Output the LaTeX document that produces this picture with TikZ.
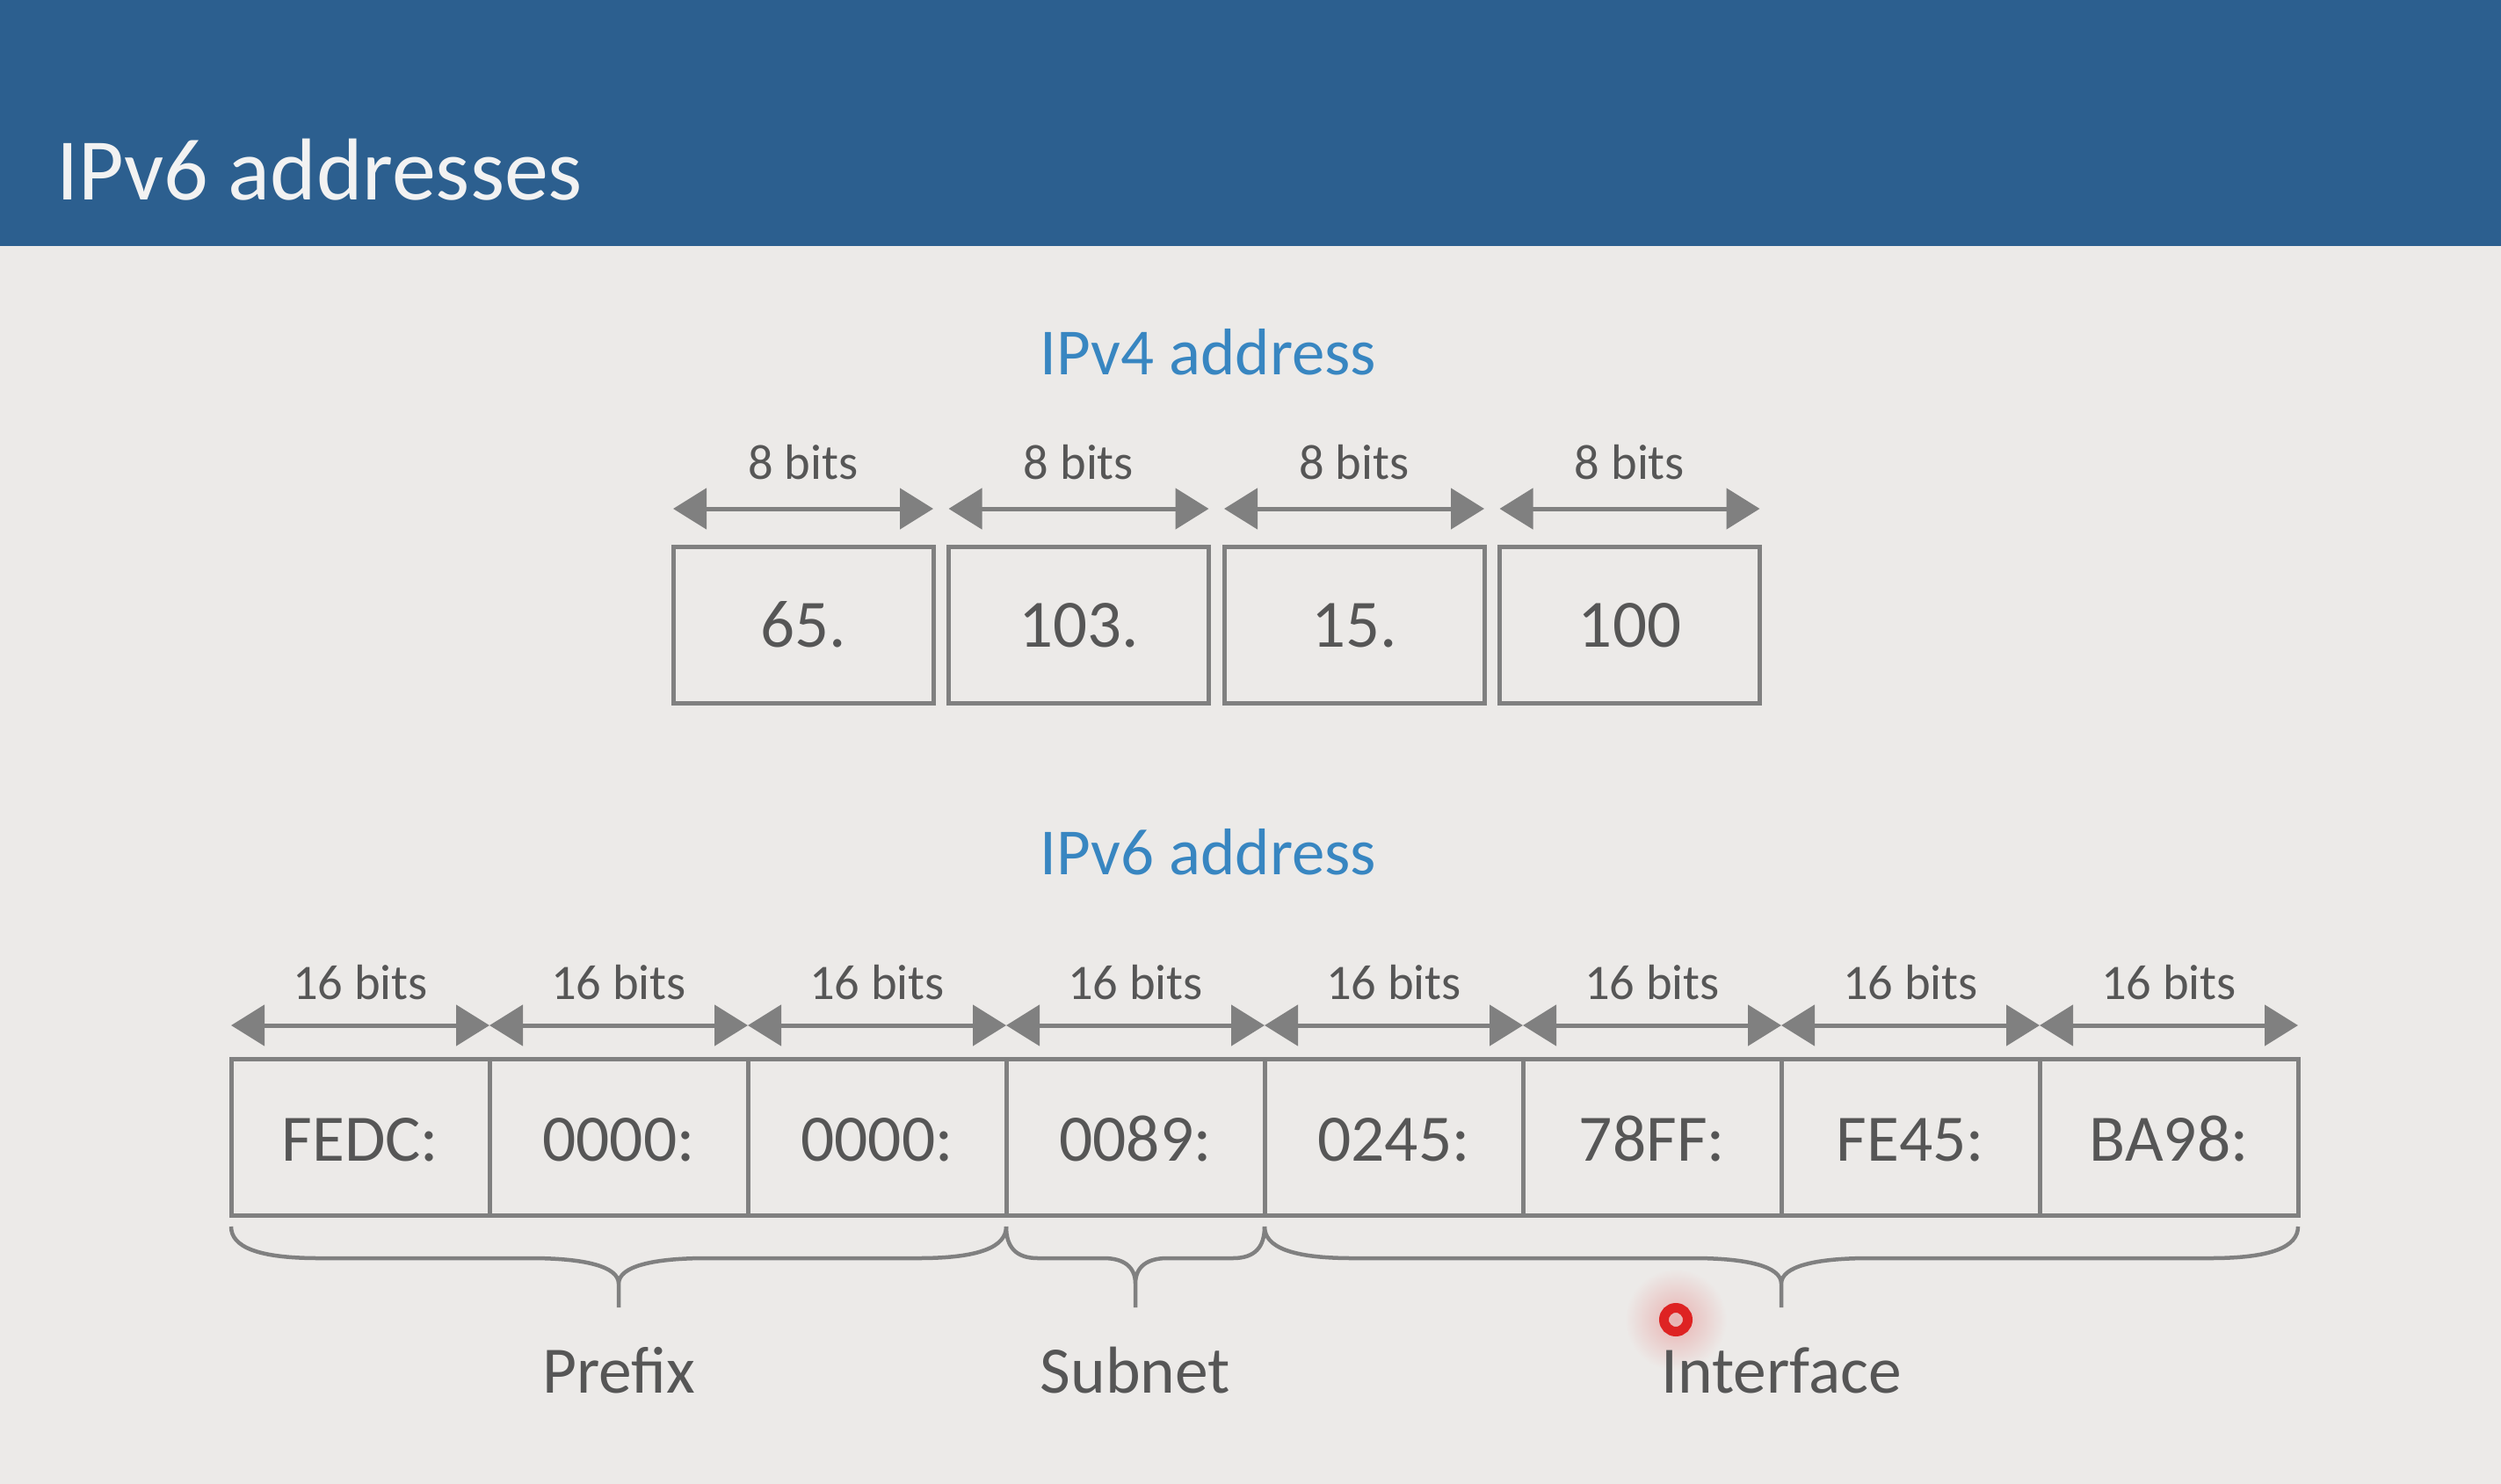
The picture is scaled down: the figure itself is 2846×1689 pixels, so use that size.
\documentclass[tikz,border=0pt]{standalone}
\usepackage{fontspec}
\setmainfont{Carlito}
\usepackage{tikz}
\usetikzlibrary{
  calc,%
  positioning,%
  % triangle tips for the bit arrows
  arrows.meta
}
\definecolor{slidebg}{RGB}{236,234,232}
\definecolor{titlebar}{RGB}{44,95,143}
\definecolor{titletext}{RGB}{242,242,242}
\definecolor{headblue}{RGB}{56,134,193}
\definecolor{textgrey}{RGB}{86,86,86}
\definecolor{linegrey}{RGB}{128,128,128}
\definecolor{cursorred}{RGB}{222,35,35}
\tikzset{>={Triangle[length=38pt,width=46pt]}}
\tikzset{
  heading/.style={anchor=base, inner sep=0pt, text=headblue, font=\fontsize{75}{80}\selectfont},
  cell4/.style={draw=linegrey, line width=5pt, minimum width=296pt, minimum height=178pt,
    inner sep=0pt, outer sep=0pt, text height=52pt, text=textgrey, font=\fontsize{77}{80}\selectfont},
  cell6/.style={cell4, minimum width=294pt, text height=56pt, font=\fontsize{75.5}{80}\selectfont},
  bitarrow/.style={<->, draw=linegrey, line width=5pt},
  bitlabel/.style={midway, inner sep=0pt, text=textgrey, font=\fontsize{56.5}{60}\selectfont},
  braceline/.style={draw=linegrey, line width=4.5pt, line join=round},
  fieldlabel/.style={anchor=base, inner sep=0pt, text=textgrey, font=\fontsize{75.5}{80}\selectfont}
}
% curly brace under a run of cells: left corner, right corner, curl width
\newcommand{\fieldbrace}[3]{%
  \draw[braceline] let \p1=(#1), \p2=(#2), \p3=($(#1)!.5!(#2)$) in
    (\x1,\y1-13pt) .. controls (\x1,\y1-36pt) and (\x1+0.3*#3,\y1-49pt) .. (\x1+#3,\y1-49pt)
    -- (\x3-#3,\y1-49pt) .. controls (\x3-0.4*#3,\y1-49pt) and (\x3,\y1-58pt) .. (\x3,\y1-78pt)
    -- (\x3,\y1-105pt)
    (\x3,\y1-78pt) .. controls (\x3,\y1-58pt) and (\x3+0.4*#3,\y1-49pt) .. (\x3+#3,\y1-49pt)
    -- (\x2-#3,\y1-49pt) .. controls (\x2-0.3*#3,\y1-49pt) and (\x2,\y1-36pt) .. (\x2,\y1-13pt);
}

\begin{document}
\begin{tikzpicture}[x=1pt, y=-1pt]
  % slide
  \fill[slidebg] (0,0) rectangle (2846,1689);
  \useasboundingbox (0,0) rectangle (2846,1689);
  \fill[titlebar] (0,0) rectangle (2846,280);
  \node[anchor=base west, inner sep=0pt, text=titletext, font=\fontsize{100}{110}\selectfont] (title) at (64,227) {IPv6 addresses};
  \shade[inner color=cursorred!28!slidebg, outer color=slidebg] (1907,1502) circle (58pt);

  % IPv4
  \node[heading] (v4head) at (1375,426) {IPv4 address};
  \node[cell4] (v4a) at (914,711) {65.};
  \node[cell4, right=17.5pt of v4a] (v4b) {103.};
  \node[cell4, right=17.5pt of v4b] (v4c) {15.};
  \node[cell4, right=17.5pt of v4c] (v4d) {100};
  \foreach \n in {a,b,c,d}
    \draw[bitarrow] ([yshift=43pt]v4\n.north west) -- node[bitlabel, above=31pt] (l4\n) {8 bits} ([yshift=43pt]v4\n.north east);

  % IPv6
  \node[heading] (v6head) at (1375,995) {IPv6 address};
  \node[cell6] (v6a) at (410,1294) {FEDC:};
  \foreach \n/\p/\t in {b/a/0000:, c/b/0000:, d/c/0089:, e/d/0245:, f/e/78FF:, g/f/FE45:, h/g/BA98:}
    \node[cell6, right=0pt of v6\p] (v6\n) {\t};
  \foreach \n in {a,...,h}
    \draw[bitarrow] ([yshift=38pt]v6\n.north west) -- node[bitlabel, above=27pt] (l6\n) {16 bits} ([yshift=38pt]v6\n.north east);

  \fieldbrace{v6a.south west}{v6c.south east}{100pt}
  \fieldbrace{v6d.south west}{v6d.south east}{36pt}
  \fieldbrace{v6e.south west}{v6h.south east}{100pt}
  \node[fieldlabel] (prefix) at ($(v6a.south west)!.5!(v6c.south east)+(0,202)$) {Prefix};
  \node[fieldlabel] (subnet) at ($(v6d.south west)!.5!(v6d.south east)+(0,202)$) {Subnet};
  \node[fieldlabel] (iface) at ($(v6e.south west)!.5!(v6h.south east)+(0,202)$) {Interface};

  % pointer
  \draw[cursorred, line width=11pt] (1907,1502) circle (13.5pt);
\end{tikzpicture}
\end{document}
